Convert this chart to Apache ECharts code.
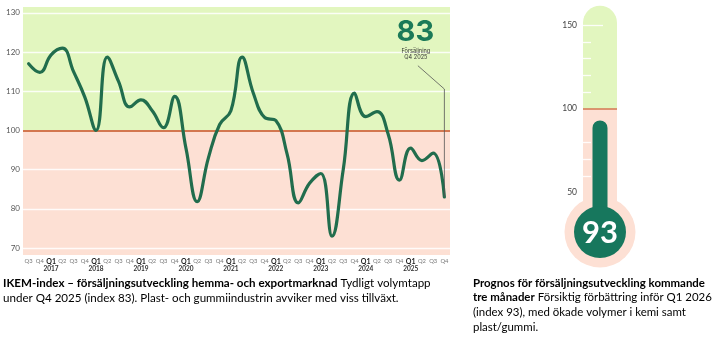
<!DOCTYPE html>
<html><head><meta charset="utf-8">
<script src="https://cdn.jsdelivr.net/npm/echarts@6/dist/echarts.min.js"></script>
<style>html,body{margin:0;padding:0;background:#fff}#c{width:720px;height:339px}</style>
</head><body><div id="c"></div>
<script>
// ---- data ----
const categories = [
  'Q3 2016','Q4 2016',
  'Q1 2017','Q2 2017','Q3 2017','Q4 2017',
  'Q1 2018','Q2 2018','Q3 2018','Q4 2018',
  'Q1 2019','Q2 2019','Q3 2019','Q4 2019',
  'Q1 2020','Q2 2020','Q3 2020','Q4 2020',
  'Q1 2021','Q2 2021','Q3 2021','Q4 2021',
  'Q1 2022','Q2 2022','Q3 2022','Q4 2022',
  'Q1 2023','Q2 2023','Q3 2023','Q4 2023',
  'Q1 2024','Q2 2024','Q3 2024','Q4 2024',
  'Q1 2025','Q2 2025','Q3 2025','Q4 2025'
];
const indexValues = [
  117, 114.8,
  119.3, 121, 115, 108.5,
  100, 118.7, 112.5, 106,
  107.8, 105, 100.7, 108.7,
  95.5, 81.8, 93, 101.5,
  105, 118.7, 109.5, 103.3,
  102.5, 94, 81.5, 86.5,
  89, 73, 90, 109.5,
  103.5, 104.8, 99, 87.3,
  95.5, 92.3, 94.2, 83
];
const yTickLabels = [70, 80, 90, 100, 110, 120, 130];
const gridLineValues = [70, 80, 90, 110, 120, 130];
const referenceValue = 100;
const latestValue = 83;
const latestLabel = ['Försäljning', 'Q4 2025'];

const forecastCategory = ['Q1 2026'];
const forecastValue = 93;
const thermoTickLabels = [50, 100, 150];
const thermoMajorTicks = [150];
const thermoMinorTicks = [60, 70, 80, 110, 120, 130, 140];

const captionLeft = {
  bold: 'IKEM-index – försäljningsutveckling hemma- och exportmarknad',
  rest1: ' Tydligt volymtapp',
  line2: 'under Q4 2025 (index 83). Plast- och gummiindustrin avviker med viss tillväxt.'
};
const captionRight = {
  bold1: 'Prognos för försäljningsutveckling kommande',
  bold2: 'tre månader',
  rest2: ' Försiktig förbättring inför Q1 2026',
  line3: '(index 93), med ökade volymer i kemi samt',
  line4: 'plast/gummi.'
};

// ---- style ----
const GREEN_BG = '#e2f6bf';
const PINK = '#fde0d4';
const LINE = '#216d4d';
const REF = '#d3774f';
const TEAL = '#17775d';
const CAP_FONT = 'Lato';
const T_MIN = 20, T_MAX = 161.5;
const BULB_AT = 26.3;
const TUBE_LEFT = 583;

function measure(text, weight, size) {
  const c = document.createElement('canvas').getContext('2d');
  c.font = weight + ' ' + size + 'px ' + CAP_FONT;
  return c.measureText(text).width;
}
const leftW = measure(captionLeft.bold, 'bold', 100) + measure(captionLeft.rest1, 'normal', 100);
const leftSize = 100 * 428 / leftW;
const r1 = 100 * 246 / measure(captionRight.bold1, 'bold', 100);
const r2 = 100 * 239 / (measure(captionRight.bold2, 'bold', 100) + measure(captionRight.rest2, 'normal', 100));
const rightSize = Math.min(r1, r2);

const chart = echarts.init(document.getElementById('c'), null, {renderer: 'canvas'});

const option = {
  animation: false,
  textStyle: {fontFamily: 'Lato'},
  grid: [
    {left: 23, right: 270, top: 7, bottom: 84, show: true, backgroundColor: PINK, borderWidth: 0},
    {left: TUBE_LEFT, width: 34, top: 5.75, bottom: 96.4, show: false}
  ],
  xAxis: [
    {
      type: 'category', gridIndex: 0, data: categories, boundaryGap: true,
      axisLine: {show: false}, axisTick: {show: false}, splitLine: {show: false},
      axisLabel: {
        interval: 0, margin: 3,
        formatter: function (v) {
          const parts = v.split(' ');
          if (parts[0] === 'Q1') return '{b|Q1}\n{y|' + parts[1] + '}';
          return '{q|' + parts[0] + '}';
        },
        rich: {
          q: {fontSize: 5.8, color: '#777', fontFamily: 'Lato', lineHeight: 7},
          b: {fontSize: 7, color: '#222', fontWeight: 'bold', fontFamily: 'Lato', lineHeight: 7},
          y: {fontSize: 6.5, color: '#333', fontWeight: 'bold', fontFamily: 'Lato', lineHeight: 7}
        }
      }
    },
    {type: 'category', gridIndex: 1, data: forecastCategory, show: false},
    {type: 'category', gridIndex: 1, data: forecastCategory, show: false}
  ],
  yAxis: [
    {
      type: 'value', gridIndex: 0, min: 68.2, max: 131.5,
      axisLine: {show: false}, axisTick: {show: false}, splitLine: {show: false},
      axisLabel: {customValues: yTickLabels, color: '#555', fontSize: 8, margin: 3}
    },
    {
      type: 'value', gridIndex: 1, min: T_MIN, max: T_MAX,
      axisLine: {show: false}, axisTick: {show: false}, splitLine: {show: false},
      axisLabel: {customValues: thermoTickLabels, color: '#444', fontSize: 8.5, margin: 6}
    }
  ],
  series: [
    {
      type: 'line', xAxisIndex: 0, yAxisIndex: 0, data: [], z: 1, silent: true,
      markArea: {silent: true, z: 1, itemStyle: {color: GREEN_BG},
        data: [[{yAxis: referenceValue}, {yAxis: 131.5}]]}
    },
    {
      type: 'line', xAxisIndex: 0, yAxisIndex: 0, data: [], z: 2, silent: true,
      markLine: {silent: true, z: 2, symbol: 'none', label: {show: false},
        lineStyle: {color: '#ffffff', width: 1.4, type: 'solid', opacity: 0.85},
        data: gridLineValues.map(v => ({yAxis: v}))}
    },
    {
      type: 'line', xAxisIndex: 0, yAxisIndex: 0, data: [], z: 3, silent: true,
      markLine: {silent: true, z: 3, symbol: 'none', label: {show: false},
        lineStyle: {color: REF, width: 2, type: 'solid'},
        data: [{yAxis: referenceValue}]}
    },
    {
      name: 'IKEM-index', type: 'line', xAxisIndex: 0, yAxisIndex: 0,
      data: indexValues, smooth: 0.45, symbol: 'none', z: 10,
      lineStyle: {color: LINE, width: 3.2, cap: 'round', join: 'round'}
    },
    // thermometer
    {
      type: 'scatter', xAxisIndex: 1, yAxisIndex: 1, data: [[0, BULB_AT]], symbolSize: 71,
      itemStyle: {color: PINK, opacity: 1}, z: 1, clip: false, silent: true
    },
    {
      type: 'bar', xAxisIndex: 1, yAxisIndex: 1, stack: 'tube', data: [referenceValue],
      barWidth: 34, itemStyle: {color: PINK}, z: 2, silent: true,
      markLine: {silent: true, z: 6, symbol: 'none', label: {show: false},
        lineStyle: {color: REF, width: 1.6, type: 'solid'},
        data: [{yAxis: referenceValue}]}
    },
    {
      type: 'bar', xAxisIndex: 1, yAxisIndex: 1, stack: 'tube', data: [T_MAX - referenceValue],
      barWidth: 34, itemStyle: {color: GREEN_BG, borderRadius: [17, 17, 0, 0]}, z: 2, silent: true
    },
    {
      type: 'bar', xAxisIndex: 2, yAxisIndex: 1, data: [forecastValue],
      barWidth: 15, itemStyle: {color: TEAL, borderRadius: [7.5, 7.5, 0, 0]}, z: 12, silent: true
    },
    {
      type: 'scatter', xAxisIndex: 1, yAxisIndex: 1, data: [[0, BULB_AT]], symbolSize: 52,
      itemStyle: {color: TEAL, opacity: 1}, z: 13, clip: false, silent: true,
      label: {show: true, position: 'inside', formatter: String(forecastValue),
        color: '#ffffff', fontSize: 31, fontWeight: 'bold', fontFamily: 'Lato', offset: [0, 1]}
    }
  ]
};
chart.setOption(option);

function tickGraphics(values, len) {
  return values.map(v => {
    const y = Math.round(chart.convertToPixel({yAxisIndex: 1}, v)) + 0.5;
    return {type: 'line', z: 15, silent: true,
      shape: {x1: TUBE_LEFT, y1: y, x2: TUBE_LEFT + len, y2: y},
      style: {stroke: '#ffffff', lineWidth: 1.3, opacity: 0.9}};
  });
}

const p = chart.convertToPixel({xAxisIndex: 0, yAxisIndex: 0}, [categories.length - 1, latestValue]);
const topY = p[1] - 108;
chart.setOption({
  graphic: tickGraphics(thermoMajorTicks, 20).concat(tickGraphics(thermoMinorTicks, 8)).concat([
    {type: 'polyline', z: 20, silent: true,
      shape: {points: [[p[0], p[1]], [p[0], topY], [p[0] - 26.5, topY - 23.3]]},
      style: {stroke: '#555', lineWidth: 0.8, fill: null}},
    {type: 'text', z: 20, silent: true, x: p[0] - 29, y: topY - 56.5,
      style: {text: String(latestValue), fill: '#1b7a58', font: 'bold 29px Inter',
        align: 'center', verticalAlign: 'middle'}},
    {type: 'text', z: 20, silent: true, x: p[0] - 28.5, y: topY - 37.3,
      style: {text: latestLabel[0], fill: '#333', font: '5.6px Inter', align: 'center', verticalAlign: 'middle'}},
    {type: 'text', z: 20, silent: true, x: p[0] - 28.5, y: topY - 31.3,
      style: {text: latestLabel[1], fill: '#333', font: '5.6px Inter', align: 'center', verticalAlign: 'middle'}},
    {type: 'text', z: 20, silent: true, x: 3, y: 283 - 7.5,
      style: {
        text: '{b|' + captionLeft.bold + '}{n|' + captionLeft.rest1 + '}\n{n|' + captionLeft.line2 + '}',
        rich: {
          b: {fontFamily: CAP_FONT, fontSize: leftSize, fontWeight: 'bold', fill: '#000', lineHeight: 15},
          n: {fontFamily: CAP_FONT, fontSize: leftSize, fill: '#000', lineHeight: 15}
        }
      }},
    {type: 'text', z: 20, silent: true, x: 473, y: 283 - 7.4,
      style: {
        text: '{b|' + captionRight.bold1 + '}\n{b|' + captionRight.bold2 + '}{n|' + captionRight.rest2 + '}\n{n|' +
          captionRight.line3 + '}\n{n|' + captionRight.line4 + '}',
        rich: {
          b: {fontFamily: CAP_FONT, fontSize: rightSize, fontWeight: 'bold', fill: '#000', lineHeight: 14.8},
          n: {fontFamily: CAP_FONT, fontSize: rightSize, fill: '#000', lineHeight: 14.8}
        }
      }}
  ])
});
</script></body></html>
